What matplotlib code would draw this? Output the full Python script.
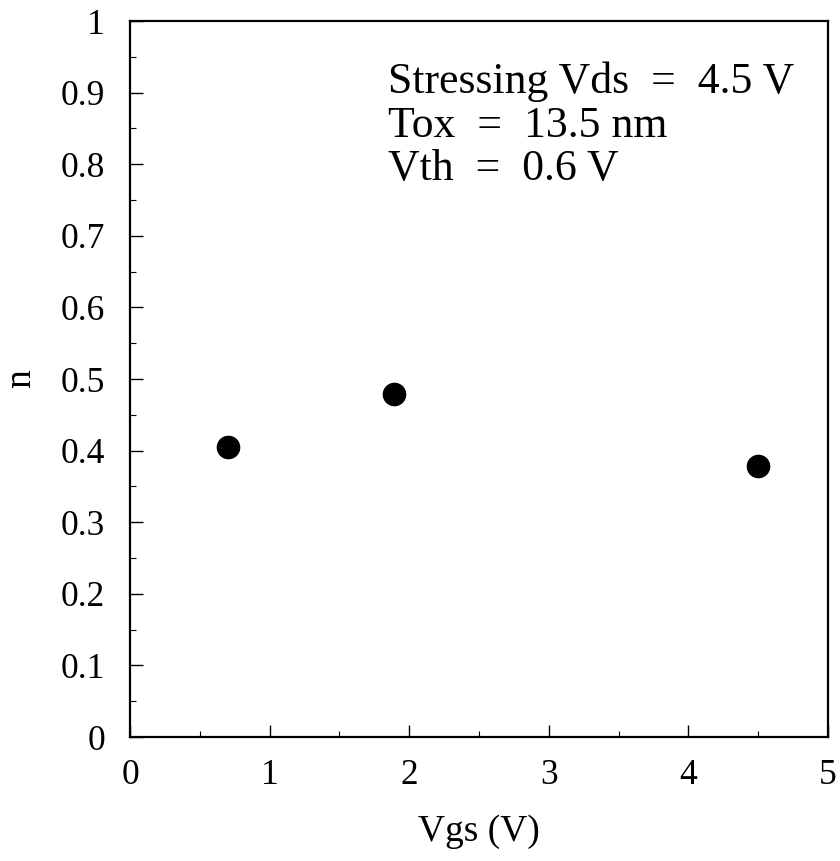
import matplotlib
matplotlib.use("Agg")
import matplotlib.pyplot as plt
from matplotlib.ticker import MultipleLocator

plt.rcParams['font.family'] = ['Liberation Serif', 'DejaVu Serif']

# data
vgs = [0.70, 1.89, 4.50]
n_vals = [0.405, 0.479, 0.378]
notes = ["Stressing Vds  =  4.5 V", "Tox  =  13.5 nm", "Vth  =  0.6 V"]

fig = plt.figure(figsize=(8.4, 8.61), dpi=100)
ax = fig.add_axes([0.1548, 0.144, 0.8309, 0.8316])

ax.plot(vgs, n_vals, 'o', color='black', markersize=16)

ax.set_xlim(0, 5)
ax.set_ylim(0, 1)
ax.xaxis.set_major_locator(MultipleLocator(1))
ax.xaxis.set_minor_locator(MultipleLocator(0.5))
ax.yaxis.set_minor_locator(MultipleLocator(0.05))
ax.set_yticks([0, 0.1, 0.2, 0.3, 0.4, 0.5, 0.6, 0.7, 0.8, 0.9, 1.0])
ax.set_yticklabels(['0', '0.1', '0.2', '0.3', '0.4', '0.5', '0.6', '0.7', '0.8', '0.9', '1'])

ax.tick_params(which='major', direction='in', length=9, width=1.0, labelsize=25.5)
ax.tick_params(which='minor', direction='in', length=4, width=0.8)
ax.tick_params(axis='y', which='major', pad=18)
ax.tick_params(axis='x', which='major', pad=16)
for s in ax.spines.values():
    s.set_linewidth(1.6)

ax.set_xlabel("Vgs (V)", fontsize=27, labelpad=16)
ax.set_ylabel("n", fontsize=27, labelpad=16)

for i, line in enumerate(notes):
    ax.text(1.845, 0.915 - i * 0.061, line, fontsize=31.5, va='center', ha='left')

fig.savefig("out.png", dpi=100)
